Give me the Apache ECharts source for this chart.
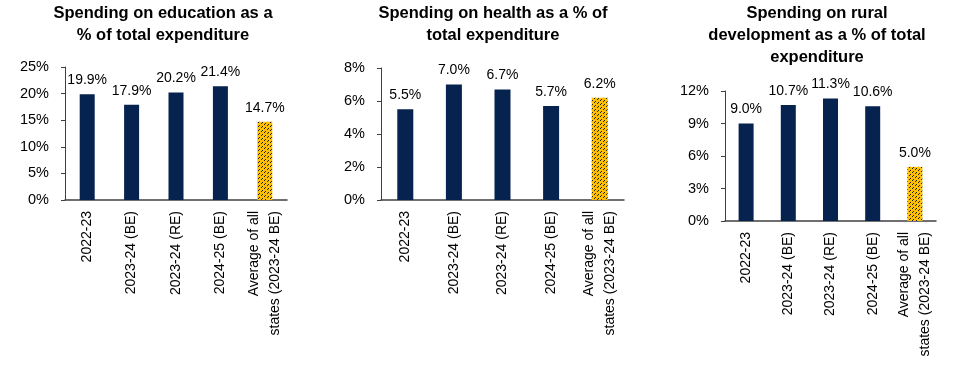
<!DOCTYPE html>
<html>
<head>
<meta charset="utf-8">
<script src="https://cdn.jsdelivr.net/npm/echarts@6/dist/echarts.min.js"></script>
<style>
html,body{margin:0;padding:0;background:#fff;}
#chart{width:957px;height:378px;}
</style>
</head>
<body>
<div id="chart"></div>
<script>
const categories = ['2022-23', '2023-24 (BE)', '2023-24 (RE)', '2024-25 (BE)', 'Average of all\nstates (2023-24 BE)'];
const education = [19.9, 17.9, 20.2, 21.4, 14.7];
const health = [5.5, 7.0, 6.7, 5.7, 6.2];
const rural = [9.0, 10.7, 11.3, 10.6, 5.0];
const titles = [
  'Spending on education as a\n% of total expenditure',
  'Spending on health as a % of\ntotal expenditure',
  'Spending on rural\ndevelopment as a % of total\nexpenditure'
];
const yMax = [25, 8, 12];
const yInterval = [5, 2, 3];

const NAVY = '#06224f';
const FONT = '"Liberation Sans", Arial, sans-serif';

function hatch() {
  const n = 12;
  const c = document.createElement('canvas');
  c.width = n; c.height = n;
  const g = c.getContext('2d');
  g.fillStyle = '#FFC000';
  g.fillRect(0, 0, n, n);
  g.fillStyle = '#222';
  for (let k = 0; k < n; k += 4) {
    for (let i = 0; i < n; i++) {
      if (i % 3 === 2) continue;
      const y = ((k - i) % n + n) % n;
      g.fillRect(i, y, 1, 1);
    }
  }
  return c;
}
const pattern = { image: hatch(), repeat: 'repeat' };

const grids = [
  { left: 65, top: 67, width: 222, height: 133 },
  { left: 381, top: 68, width: 243, height: 132 },
  { left: 725, top: 91, width: 211, height: 130 }
];
const titleCenters = [158, 488, 812];
const barWidths = [15, 16, 15];
const seriesData = [education, health, rural];

const chart = echarts.init(document.getElementById('chart'), null, { renderer: 'canvas' });
chart.setOption({
  animation: false,
  textStyle: { fontFamily: FONT },
  title: titles.map((t, i) => ({
    text: t,
    left: titleCenters[i],
    top: -3,
    textAlign: 'center',
    textStyle: { fontFamily: FONT, fontSize: 16.5, fontWeight: 'bold', color: '#000', lineHeight: 22 }
  })),
  grid: grids,
  xAxis: grids.map((g, i) => ({
    type: 'category',
    gridIndex: i,
    data: categories,
    axisLine: { lineStyle: { color: '#404040', width: 1.5 } },
    axisTick: { show: false },
    axisLabel: { rotate: 90, margin: 11, fontSize: 14, color: '#000', fontFamily: FONT, lineHeight: 21, interval: 0 }
  })),
  yAxis: grids.map((g, i) => ({
    type: 'value',
    gridIndex: i,
    min: 0,
    max: yMax[i],
    interval: yInterval[i],
    axisLine: { show: true, lineStyle: { color: '#404040', width: 1 } },
    axisTick: { show: true, length: 4, lineStyle: { color: '#404040' } },
    splitLine: { show: false },
    axisLabel: { formatter: '{value}%', fontSize: 14.5, color: '#000', fontFamily: FONT, margin: 16 }
  })),
  series: seriesData.map((arr, i) => ({
    type: 'bar',
    xAxisIndex: i,
    yAxisIndex: i,
    barWidth: barWidths[i],
    itemStyle: { color: NAVY },
    label: {
      show: true,
      position: 'top',
      distance: 7,
      fontSize: 14,
      color: '#000',
      fontFamily: FONT,
      formatter: p => p.value.toFixed(1) + '%'
    },
    data: arr.map((v, j) => j === arr.length - 1 ? { value: v, itemStyle: { color: pattern } } : v)
  }))
});
</script>
</body>
</html>
